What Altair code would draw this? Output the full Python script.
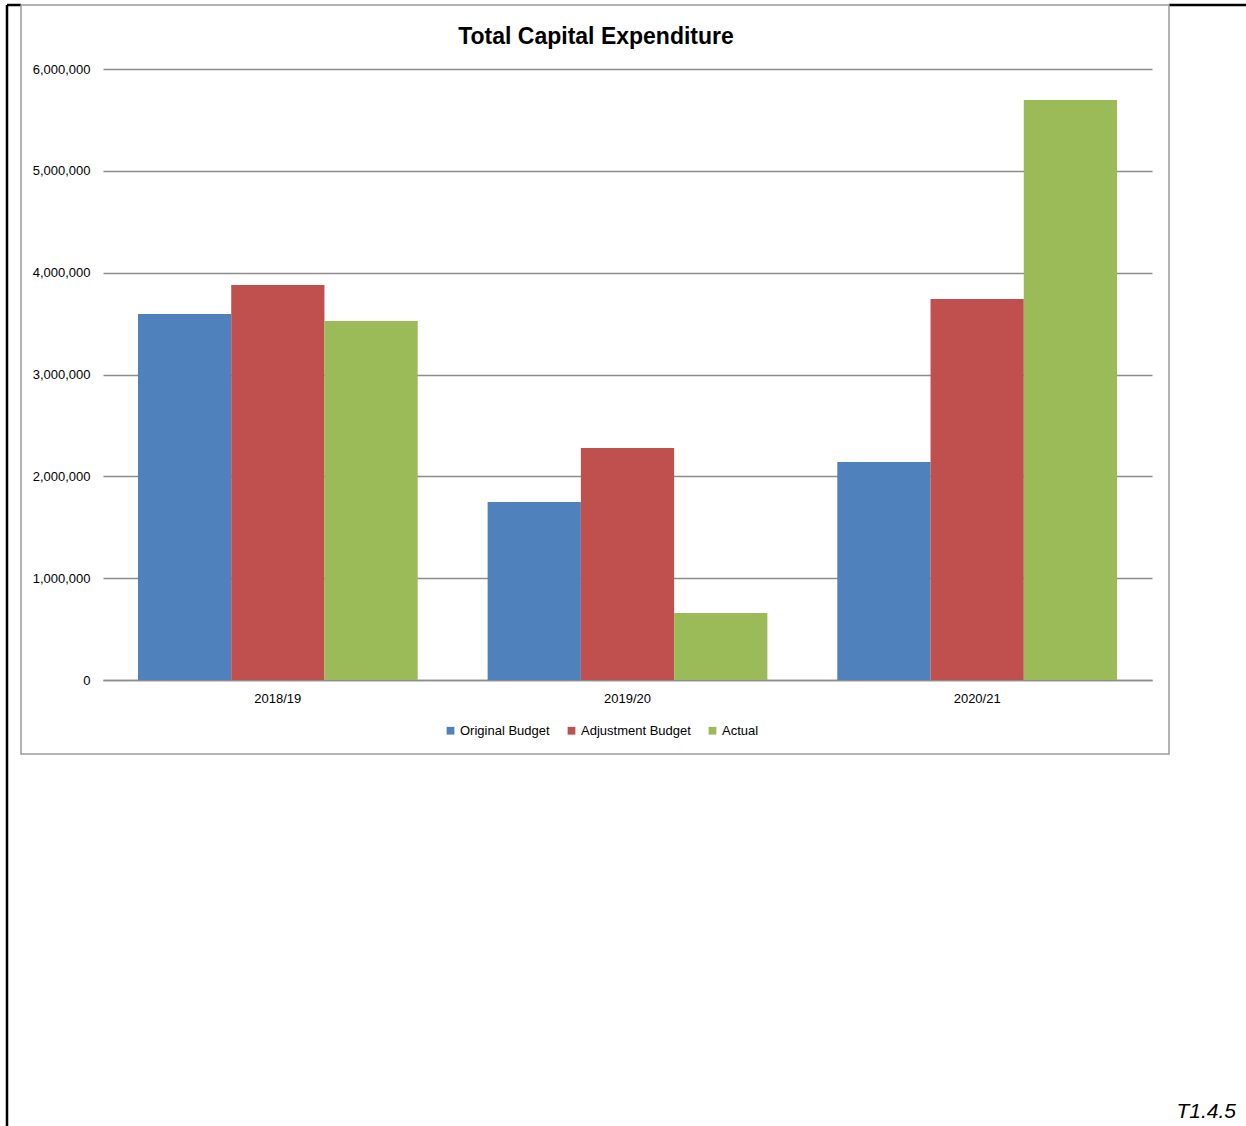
import altair as alt
import pandas as pd

categories = ["2018/19", "2019/20", "2020/21"]
series = ["Original Budget", "Adjustment Budget", "Actual"]
original_budget = [3595000, 1748000, 2141000]
adjustment_budget = [3880000, 2278000, 3742000]
actual = [3525000, 658000, 5696000]
y_ticks = [0, 1000000, 2000000, 3000000, 4000000, 5000000, 6000000]
colors = ["#4F81BD", "#C0504D", "#9BBB59"]

rows = []
for s, vals in zip(series, [original_budget, adjustment_budget, actual]):
    for c, v in zip(categories, vals):
        rows.append({"Year": c, "Series": s, "Value": v})
df = pd.DataFrame(rows)

FONT = "Liberation Sans, Arial, sans-serif"
W, H = 1049, 611
L, T = 103, 69

bars = alt.Chart(df).mark_bar().encode(
    x=alt.X("Year:N", sort=categories,
            scale=alt.Scale(paddingInner=0.2, paddingOuter=0.1),
            axis=alt.Axis(title=None, labelAngle=0, ticks=False, labelPadding=12,
                          domainColor="#8c8c8c", domainWidth=1.5,
                          labelFont=FONT, labelFontSize=13, labelColor="#000")),
    xOffset=alt.XOffset("Series:N", sort=series, scale=alt.Scale(paddingInner=0, paddingOuter=0)),
    y=alt.Y("Value:Q", scale=alt.Scale(domain=[0, 6000000], nice=False),
            axis=alt.Axis(title=None, values=y_ticks, format=",.0f", ticks=False, domain=False,
                          labelPadding=13, gridColor="#8c8c8c", gridWidth=1.3,
                          labelFont=FONT, labelFontSize=13, labelColor="#000")),
    color=alt.Color("Series:N", sort=series,
                    scale=alt.Scale(domain=series, range=colors),
                    legend=alt.Legend(title=None, orient="none", direction="horizontal",
                                      legendX=341, legendY=655, symbolType="square",
                                      symbolSize=60, symbolStrokeWidth=0, labelFont=FONT,
                                      labelFontSize=13, labelColor="#000", labelOffset=3,
                                      columnPadding=15)),
)

blank = alt.Data(values=[{}])

black_v = alt.Chart(blank).mark_rule(color="#000", strokeWidth=2.5).encode(
    x=alt.value(7 - L), y=alt.value(5 - T), y2=alt.value(1126 - T))
black_h1 = alt.Chart(blank).mark_rule(color="#000", strokeWidth=2.5).encode(
    x=alt.value(7 - L), x2=alt.value(21 - L), y=alt.value(5 - T))
black_h2 = alt.Chart(blank).mark_rule(color="#000", strokeWidth=2.5).encode(
    x=alt.value(1169 - L), x2=alt.value(1246 - L), y=alt.value(5 - T))
box_edge = alt.Chart(blank).mark_rect(fillOpacity=0, stroke="#9a9a9a", strokeWidth=1.5).encode(
    x=alt.value(21 - L), x2=alt.value(1169 - L), y=alt.value(5 - T), y2=alt.value(754 - T))

title = alt.Chart(blank).mark_text(text="Total Capital Expenditure", font=FONT, fontSize=23,
                                   fontWeight="bold", color="#000", align="center",
                                   baseline="alphabetic").encode(
    x=alt.value(596 - L), y=alt.value(44 - T))
ref = alt.Chart(blank).mark_text(text="T1.4.5", font=FONT, fontSize=21,
                                 fontStyle="italic", color="#000", align="right",
                                 baseline="alphabetic").encode(
    x=alt.value(1236 - L), y=alt.value(1118 - T))

chart = alt.layer(black_v, black_h1, black_h2, box_edge, bars, title, ref).properties(
    width=W, height=H,
    background="white",
    autosize=alt.AutoSizeParams(type="none"),
    padding={"left": L, "top": T, "right": 1246 - L - W, "bottom": 1126 - T - H},
).configure_view(strokeWidth=0, stroke=None)

chart.save("out.html", embed_options={"renderer": "svg", "actions": False})
